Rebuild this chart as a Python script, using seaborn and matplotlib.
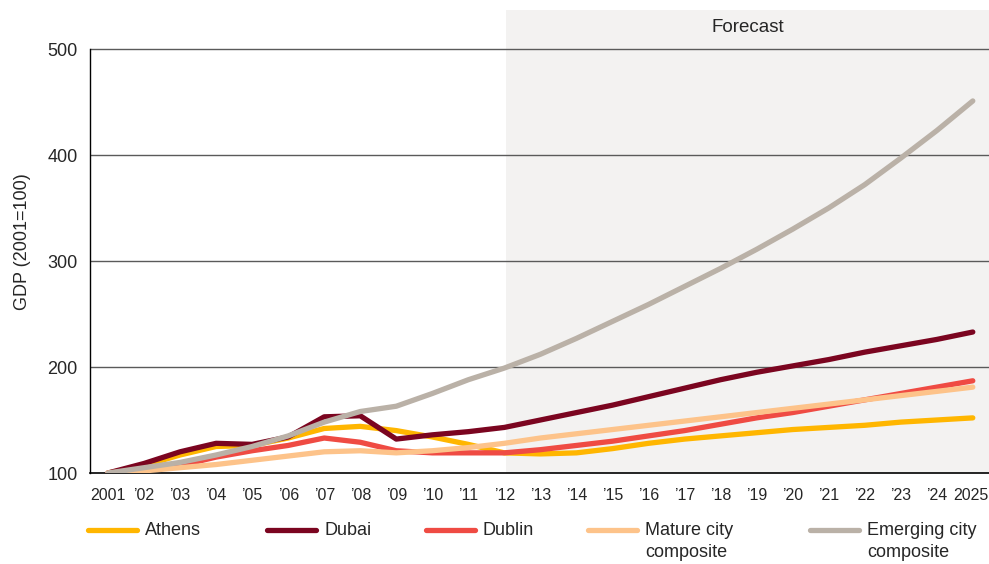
import matplotlib
matplotlib.use('Agg')
import matplotlib.pyplot as plt
import matplotlib.transforms as mtransforms
import numpy as np
import pandas as pd
import seaborn as sns
from matplotlib.lines import Line2D

years = list(range(2001, 2026))
athens = [100, 107, 117, 125, 126, 133, 142, 144, 140, 134, 127, 119, 118, 119, 123, 128, 132,
          135, 138, 141, 143, 145, 148, 150, 152]
dubai = [100, 109, 120, 128, 127, 134, 153, 154, 132, 136, 139, 143, 150, 157, 164, 172, 180,
         188, 195, 201, 207, 214, 220, 226, 233]
dublin = [100, 103, 107, 115, 121, 126, 133, 129, 121, 119, 119, 119, 122, 126, 130, 135, 140,
          146, 152, 157, 163, 169, 175, 181, 187]
mature = [100, 102, 105, 108, 112, 116, 120, 121, 119, 121, 124, 128, 133, 137, 141, 145, 149,
          153, 157, 161, 165, 169, 173, 177, 181]
emerging = [100, 105, 110, 117, 125, 135, 148, 158, 163, 175, 188, 199, 212, 227, 243, 259, 276,
            293, 311, 330, 350, 372, 397, 423, 451]

series = ['Athens', 'Dubai', 'Dublin', 'Mature city\ncomposite', 'Emerging city\ncomposite']
colors = ['#FFB600', '#7B0520', '#EF4B43', '#FDC38A', '#BAB1A7']
tick_labels = ['2001'] + ['\u2019%02d' % (y % 100) for y in years[1:-1]] + ['2025']
forecast_start = 2012

df = pd.DataFrame({'year': years * 5,
                   'gdp': athens + dubai + dublin + mature + emerging,
                   'series': sum([[s] * len(years) for s in series], [])})

sns.set_style('white')
plt.rcParams['font.family'] = ['Liberation Sans', 'DejaVu Sans']
narrow = ['Liberation Sans Narrow', 'Liberation Sans']

fig = plt.figure(figsize=(9.89, 5.64), dpi=100)
ax = fig.add_axes([90 / 989, 1 - 473 / 564, 1 - 90 / 989, (473 - 10) / 564])

ax.axvspan(forecast_start + 0.05, 2030, color='#F3F2F1', lw=0, zorder=0)
for v in [200, 300, 400, 500]:
    ax.axhline(v, color='#5a5a5a', lw=1, zorder=1)

sns.lineplot(data=df, x='year', y='gdp', hue='series', palette=colors, hue_order=series,
             linewidth=3.8, legend=False, ax=ax, zorder=3, solid_capstyle='round')

ax.set_xlim(2000.5, 2025.45)
ax.set_ylim(100, 536.8)
ax.set_yticks([100, 200, 300, 400, 500])
ax.set_yticklabels(['100', '200', '300', '400', '500'], fontsize=13)
ax.set_xticks(years)
ax.set_xticklabels(tick_labels, fontsize=11.5, family=narrow)
ax.tick_params(axis='x', length=0, pad=11)
ax.tick_params(axis='y', length=0, pad=9)
ax.set_xlabel('')
ax.set_ylabel('GDP (2001=100)', fontsize=13, labelpad=12)

# keep the last year label inside the canvas
last = ax.get_xticklabels()[-1]
last.set_transform(last.get_transform() +
                   mtransforms.ScaledTranslation(-2 / 100, 0, fig.dpi_scale_trans))

for s in ['top', 'right']:
    ax.spines[s].set_visible(False)
ax.spines['left'].set_bounds(100, 500)
ax.spines['left'].set_color('black')
ax.spines['bottom'].set_color('black')
ax.spines['left'].set_linewidth(1)
ax.spines['bottom'].set_linewidth(1.2)

ax.text(2018.75, 520, 'Forecast', ha='center', va='center', fontsize=13.5)

# legend below the axes
leg_x = [88, 267, 426, 588, 810]
for x0, name, c in zip(leg_x, series, colors):
    fig.add_artist(Line2D([x0 / 989, (x0 + 49) / 989], [1 - 530 / 564] * 2, color=c,
                          lw=3.8, solid_capstyle='round', transform=fig.transFigure))
    fig.text((x0 + 57) / 989, 1 - 522 / 564, name, ha='left', va='top', fontsize=13,
             family=narrow, linespacing=1.35)

fig.savefig('out.png', dpi=100)
